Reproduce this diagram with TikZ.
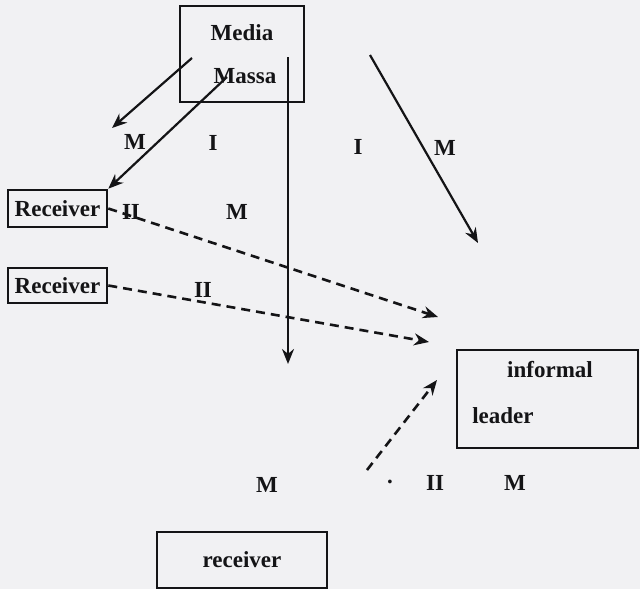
\documentclass[tikz,border=0pt]{standalone}
\usepackage{fontspec}
\setmainfont{Liberation Serif}
\usetikzlibrary{arrows.meta}
\definecolor{paper}{RGB}{241,241,243}
\definecolor{ink}{RGB}{20,20,22}
\tikzset{
  box/.style={draw=ink, line width=2.6pt, inner sep=0pt, text=ink,
    font=\fontsize{23}{27}\selectfont\bfseries},
  lbl/.style={text=ink, inner sep=0pt, font=\fontsize{23}{27}\selectfont\bfseries},
  flow/.style={draw=ink, line width=2.2pt, -{Stealth[length=15pt,width=12pt]}},
  feed/.style={flow, line width=2.6pt, dash pattern=on 9pt off 6pt}
}
\begin{document}
\begin{tikzpicture}[x=1pt,y=-1pt]
  \fill[paper] (0,0) rectangle (640,589);
  \useasboundingbox (0,0) rectangle (640,589);

  % boxes
  \node[box, minimum width=124pt, minimum height=96pt, align=center] (media) at (242,54)
    {Media\\[16pt]\hspace*{6pt}Massa};
  \node[box, minimum width=99pt, minimum height=37pt] (recA) at (57.5,208.5) {Receiver};
  \node[box, minimum width=99pt, minimum height=35pt] (recB) at (57.5,285.5) {Receiver};
  \node[box, minimum width=181pt, minimum height=98pt] (leader) at (547.5,399) {};
  \node[lbl] (leaderA) at (550,370) {informal};
  \node[lbl] (leaderB) at (503,416) {leader};
  \node[box, minimum width=170pt, minimum height=56pt] (recC) at (242,560) {receiver};

  % connector end points
  \coordinate (s1) at (192,58);
  \coordinate (e1) at (112,128);
  \coordinate (s2) at (227,77);
  \coordinate (s3) at (288,57);
  \coordinate (e3) at (288,364);
  \coordinate (s4) at (370,55);
  \coordinate (e4) at (478,243);
  \coordinate (e5) at (438,317);
  \coordinate (e6) at (429,342);
  \coordinate (s7) at (367,470);
  \coordinate (e7) at (437,380);

  % mass media flows
  \draw[flow] (s1) -- (e1);
  \draw[flow] (s2) -- (recA.north east);
  \draw[flow] (s3) -- (e3);
  \draw[flow] (s4) -- (e4);

  % interpersonal flows
  \draw[feed] (recA.east) -- (e5);
  \draw[feed] (recB.east) -- (e6);
  \draw[feed] (s7) -- (e7);

  % labels
  \node[lbl] (m1) at (135,142) {M};
  \node[lbl] (i1) at (213,143) {I};
  \node[lbl] (i2) at (358,147) {I};
  \node[lbl] (m2) at (445,148) {M};
  \node[lbl] (ii1) at (131,212) {II};
  \node[lbl] (m3) at (237,212) {M};
  \node[lbl] (ii2) at (203,290) {II};
  \node[lbl] (m4) at (267,485) {M};
  \node[lbl] (dot) at (390,482) {.};
  \node[lbl] (ii3) at (435,483) {II};
  \node[lbl] (m5) at (515,483) {M};
\end{tikzpicture}
\end{document}
